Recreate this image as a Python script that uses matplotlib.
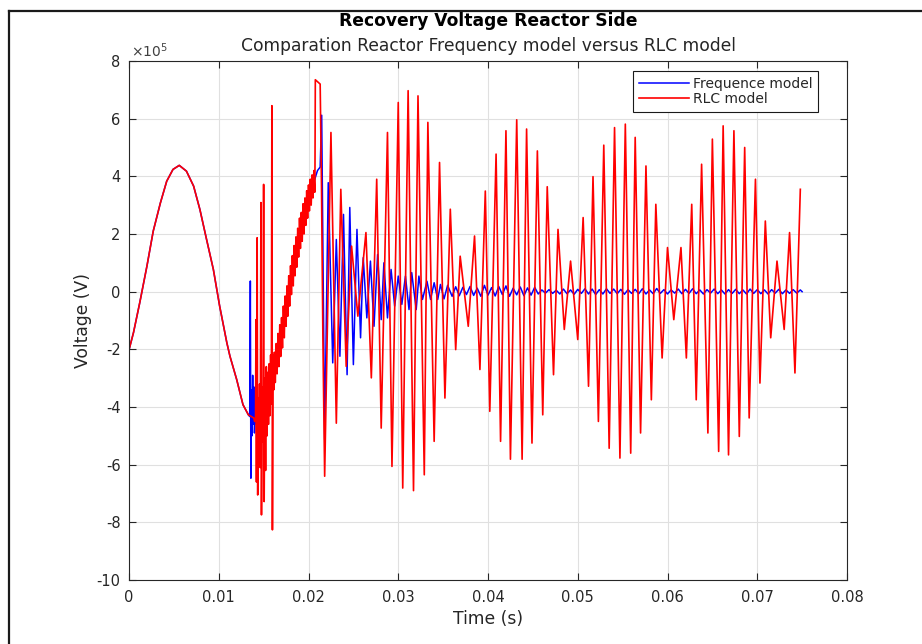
import matplotlib
matplotlib.use("Agg")
import matplotlib.pyplot as plt
from matplotlib.lines import Line2D
from matplotlib.ticker import FuncFormatter, MultipleLocator

plt.rcParams['font.family'] = ['DejaVu Sans']
plt.rcParams['axes.unicode_minus'] = False

# Voltage values are given in units of 1e5 V, times in seconds.
VOLT_UNIT = 1e5

# Source voltage before the breaker opens (common to both models)
t_source = [0.0000, 0.0005, 0.0012, 0.0020, 0.0027, 0.0035, 0.0042, 0.0049,
            0.0056, 0.0064, 0.0072, 0.0079, 0.0086, 0.0094, 0.0101, 0.0109,
            0.01125, 0.0120, 0.0127, 0.0133]
v_source = [-2.02, -1.42, -0.38, 0.89, 2.10, 3.08, 3.83, 4.24,
            4.38, 4.18, 3.66, 2.85, 1.87, 0.77, -0.50, -1.77,
            -2.24, -3.05, -3.92, -4.27]

# Frequency-dependent reactor model after interruption
t_freq = [0.01345, 0.01352, 0.01358, 0.01365, 0.0137, 0.01378, 0.01385, 0.0139,
          0.01398, 0.0141, 0.0142, 0.0150, 0.0165, 0.0176, 0.0188, 0.0199,
          0.0208, 0.0210, 0.0213, 0.02147, 0.02155, 0.0218,
          0.0222, 0.0227, 0.0231, 0.0235, 0.0239, 0.0243, 0.0246, 0.0250,
          0.0254, 0.0258, 0.0261, 0.0265, 0.0269, 0.0273, 0.0277, 0.0281,
          0.0284, 0.0288, 0.0292, 0.0296, 0.0300, 0.0304, 0.0308, 0.0312,
          0.0315, 0.0320, 0.0323, 0.0327, 0.0332, 0.0336, 0.0340, 0.0344,
          0.0347, 0.0351, 0.0355, 0.0360, 0.0364,
          0.0368, 0.0372, 0.0376, 0.0380, 0.0384, 0.0388, 0.0392, 0.0396,
          0.0400, 0.0404, 0.0408, 0.0412, 0.0416, 0.0420, 0.0424, 0.0428,
          0.0432, 0.0436, 0.0440, 0.0444, 0.0448, 0.0452, 0.0456, 0.0460,
          0.0464, 0.0468, 0.0472, 0.0476, 0.0480, 0.0484, 0.0488, 0.0492,
          0.0496, 0.0500, 0.0504, 0.0508, 0.0512, 0.0516, 0.0520, 0.0524,
          0.0528, 0.0532, 0.0536, 0.0540, 0.0544, 0.0548, 0.0552, 0.0556,
          0.0560, 0.0564, 0.0568, 0.0572, 0.0576, 0.0580, 0.0584, 0.0588,
          0.0592, 0.0596, 0.0600, 0.0604, 0.0608, 0.0612, 0.0616, 0.0620,
          0.0624, 0.0628, 0.0632, 0.0636, 0.0640, 0.0644, 0.0648, 0.0652,
          0.0656, 0.0660, 0.0664, 0.0668, 0.0672, 0.0676, 0.0680, 0.0684,
          0.0688, 0.0692, 0.0696, 0.0700, 0.0704, 0.0708, 0.0712, 0.0716,
          0.0720, 0.0724, 0.0728, 0.0732, 0.0736, 0.0740, 0.0744, 0.0748,
          0.0750]
v_freq = [-4.33, 0.37, -6.47, -3.40, -5.00, -2.90, -4.60, -3.30,
          -4.90, -4.00, -4.60, -3.75, -2.24, -0.16, 1.70, 3.09,
          4.00, 4.20, 4.32, 6.12, 3.40, -5.13,
          3.78, -2.47, 1.81, -2.24, 2.68, -2.88, 2.92, -2.53,
          2.16, -1.60, 1.18, -0.91, 1.06, -1.20, 1.29, -0.97,
          1.00, -0.91, 0.77, -0.50, 0.54, -0.44, 0.54, -0.62,
          0.66, -0.62, 0.54, -0.27, 0.36, -0.27, 0.31, -0.27,
          0.25, -0.25, 0.22, -0.16, 0.17,
          -0.14, 0.15, -0.10, 0.18, -0.13, 0.12, -0.16, 0.22,
          -0.12, 0.14, -0.15, 0.18, -0.10, 0.20, -0.16, 0.12,
          -0.11, 0.16, -0.14, 0.13, -0.12, 0.15, -0.08, 0.06,
          -0.05, 0.07, -0.06, 0.05, -0.08, 0.09, -0.07, 0.06,
          -0.09, 0.08, -0.06, 0.10, -0.08, 0.09, -0.10, 0.07,
          -0.08, 0.10, -0.06, 0.09, -0.07, 0.08, -0.09, 0.07,
          -0.06, 0.08, -0.07, 0.10, -0.08, 0.06, -0.07, 0.11,
          -0.06, 0.07, -0.08, 0.06, -0.05, 0.09, -0.07, 0.08,
          -0.06, 0.10, -0.07, 0.06, -0.08, 0.07, -0.05, 0.09,
          -0.07, 0.06, -0.08, 0.07, -0.06, 0.08, -0.07, 0.06,
          -0.08, 0.09, -0.06, 0.07, -0.07, 0.06, -0.08, 0.07,
          -0.05, 0.08, -0.07, 0.06, -0.06, 0.07, -0.05, 0.06,
          0.00]

# Lumped RLC reactor model after interruption
t_rlc = [0.0139, 0.01400, 0.01410, 0.01415, 0.01420, 0.01428, 0.01434, 0.01440,
         0.01448, 0.01455, 0.01462, 0.01470, 0.01476, 0.01484, 0.01492, 0.01500,
         0.01506, 0.01514, 0.01522, 0.01530, 0.01538, 0.01546, 0.01554, 0.01562,
         0.01570, 0.01578, 0.01586, 0.01592, 0.01598, 0.01606, 0.01614,
         0.0162, 0.0163, 0.0164, 0.0165, 0.0166, 0.0167, 0.0168, 0.0169,
         0.0170, 0.0171, 0.0172, 0.0173, 0.0174, 0.0175, 0.0176, 0.0177,
         0.0178, 0.0179, 0.0180, 0.0181, 0.0182, 0.0183, 0.0184, 0.0185,
         0.0186, 0.0187, 0.0188, 0.0189, 0.0190, 0.0191, 0.0192, 0.0193,
         0.0194, 0.0195, 0.0196, 0.0197, 0.0198, 0.0199, 0.0200, 0.0201,
         0.0202, 0.0203, 0.0204, 0.0205, 0.0206, 0.0207, 0.02072,
         0.02076, 0.0213, 0.02145, 0.0216, 0.0218,
         0.0225, 0.0231, 0.0236, 0.0242, 0.0248, 0.0255, 0.0264, 0.0270,
         0.0276, 0.0281, 0.0288, 0.0293, 0.0300, 0.0305, 0.0311, 0.0317,
         0.0322, 0.0329, 0.0333, 0.0340, 0.0346, 0.0352, 0.0358, 0.0364,
         0.0369, 0.0378, 0.0385, 0.0391, 0.0397, 0.0402, 0.0409, 0.0414,
         0.0420, 0.0425, 0.0432, 0.0438, 0.0443, 0.0449, 0.0455, 0.0461,
         0.0466, 0.0473, 0.0478, 0.0485, 0.0492, 0.0500, 0.0506, 0.0512,
         0.0517, 0.0523, 0.0529, 0.0535, 0.0541, 0.0547, 0.0553, 0.0559,
         0.0564, 0.0570, 0.0576, 0.0582, 0.0587, 0.0594, 0.0600, 0.0607,
         0.0615, 0.0621, 0.0627, 0.0632, 0.0638, 0.0645, 0.0650, 0.0657,
         0.0662, 0.0668, 0.0674, 0.0680, 0.0686, 0.0691, 0.0698, 0.0703,
         0.0709, 0.0715, 0.0722, 0.0730, 0.0736, 0.0742, 0.0748]
v_rlc = [-4.38, -4.50, -4.35, -0.97, -6.60, 1.87, -7.05, -3.70,
         -5.40, -3.20, -6.10, 3.09, -7.74, -3.30, -5.20, 3.72,
         -7.28, -3.00, -6.20, -2.60, -5.00, -2.80, -4.60, -2.50,
         -4.30, -2.20, -3.90, 6.45, -8.26, -2.20, -3.40,
         -2.10, -3.15, -1.80, -2.85, -1.45, -2.60, -1.15, -2.25,
         -0.90, -1.95, -0.50, -1.60, -0.15, -1.20, 0.20, -0.85,
         0.55, -0.50, 0.90, -0.10, 1.25, 0.20, 1.60, 0.55,
         1.90, 0.85, 2.20, 1.20, 2.55, 1.50, 2.75, 1.75,
         3.05, 2.00, 3.25, 2.30, 3.50, 2.55, 3.70, 2.80,
         3.90, 3.00, 4.05, 3.25, 4.20, 3.45, 4.10,
         7.35, 7.20, 3.60, -1.50, -6.40,
         5.52, -4.56, 3.55, -2.59, 1.58, -0.85, 2.05, -2.99,
         3.90, -4.73, 5.52, -6.06, 6.56, -6.81, 6.97, -6.90,
         6.79, -6.35, 5.87, -5.19, 4.48, -3.69, 2.86, -2.01,
         1.23, -1.20, 1.93, -2.70, 3.49, -4.15, 4.77, -5.19,
         5.58, -5.81, 5.96, -5.81, 5.64, -5.25, 4.88, -4.27,
         3.64, -2.88, 2.16, -1.31, 1.06, -1.66, 2.57, -3.28,
         3.99, -4.50, 5.08, -5.43, 5.69, -5.77, 5.81, -5.60,
         5.35, -4.90, 4.36, -3.75, 3.03, -2.30, 1.53, -0.97,
         1.53, -2.30, 3.03, -3.75, 4.42, -4.90, 5.29, -5.54,
         5.75, -5.66, 5.58, -5.02, 5.00, -4.38, 3.90, -3.17,
         2.45, -1.60, 1.06, -1.31, 2.05, -2.82, 3.55]

x_ticks = [0, 0.01, 0.02, 0.03, 0.04, 0.05, 0.06, 0.07, 0.08]
x_tick_labels = ['0', '0.01', '0.02', '0.03', '0.04', '0.05', '0.06', '0.07', '0.08']

title_text = 'Recovery Voltage Reactor Side'
subtitle_text = 'Comparation Reactor Frequency model versus RLC model'
series_labels = ['Frequence model', 'RLC model']

TEXT = '#262626'
W, H = 922, 644

fig = plt.figure(figsize=(W / 100, H / 100), dpi=100)
ax = fig.add_axes([129 / W, 1 - 580 / H, (847 - 129) / W, (580 - 61) / H])

t_blue = t_source + t_freq
v_blue = [v * VOLT_UNIT for v in v_source + v_freq]
t_red = t_source + t_rlc
v_red = [v * VOLT_UNIT for v in v_source + v_rlc]

ax.plot(t_blue, v_blue, color=(0, 0, 1), lw=1.1, label=series_labels[0])
ax.plot(t_red, v_red, color=(1, 0, 0), lw=1.2, label=series_labels[1])

ax.set_xlim(0, 0.08)
ax.set_ylim(-10 * VOLT_UNIT, 8 * VOLT_UNIT)
ax.set_xticks(x_ticks)
ax.set_xticklabels(x_tick_labels)
ax.yaxis.set_major_locator(MultipleLocator(2 * VOLT_UNIT))
ax.yaxis.set_major_formatter(FuncFormatter(lambda v, p: f'{v / VOLT_UNIT:g}'))

ax.grid(True, color='#e0e0e0', lw=0.8)
ax.set_axisbelow(True)
for s in ax.spines.values():
    s.set_color(TEXT)
    s.set_linewidth(0.8)
ax.tick_params(direction='in', length=5, width=0.8, colors=TEXT,
               labelsize=10.5, top=True, right=True)
ax.tick_params(axis='x', pad=7)
ax.tick_params(axis='y', pad=6)

# axis labels and exponent marker
fig.text(488 / W, 1 - 619 / H, 'Time (s)', ha='center', va='center',
         fontsize=12.3, color=TEXT)
fig.text(83 / W, 1 - 321 / H, 'Voltage (V)', ha='center', va='center',
         rotation=90, fontsize=12.3, color=TEXT)
fig.text(131 / W, 1 - 51 / H, r'$\times10^{5}$', ha='left', va='center',
         fontsize=10, color='#404040')

leg = ax.legend(loc='upper right', bbox_to_anchor=((818 - 129) / 718, (580 - 71) / 519),
                borderaxespad=0, fontsize=10, handlelength=3.6, handletextpad=0.3,
                frameon=True, fancybox=False, framealpha=1, borderpad=0.4,
                labelspacing=0.1)
leg.get_frame().set_edgecolor('#1a1a1a')
leg.get_frame().set_linewidth(0.8)
for txt in leg.get_texts():
    txt.set_color(TEXT)

fig.text(488 / W, 1 - 21 / H, title_text, ha='center', va='center',
         fontsize=12.3, fontweight='bold', color='black')
fig.text(488 / W, 1 - 46 / H, subtitle_text, ha='center', va='center',
         fontsize=12.3, color=TEXT)

# outer window frame
fig.add_artist(Line2D([8.5 / W, 8.5 / W], [0, 1 - 10.5 / H], transform=fig.transFigure,
                      color='#1a1a1a', lw=1.6))
fig.add_artist(Line2D([8.5 / W, 1], [1 - 10.5 / H, 1 - 10.5 / H], transform=fig.transFigure,
                      color='#1a1a1a', lw=1.6))

fig.savefig('out.png', dpi=100)
